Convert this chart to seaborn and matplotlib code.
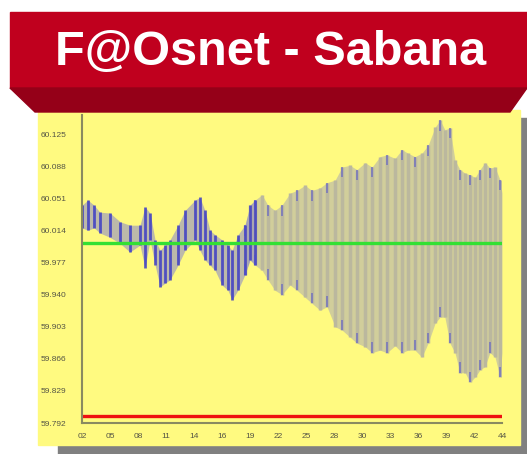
import matplotlib
matplotlib.use("Agg")
import matplotlib.pyplot as plt
from matplotlib.patches import Rectangle, Polygon
import numpy as np
import pandas as pd
import seaborn as sns

# --- data ---
title = "F@Osnet - Sabana"
x_labels = ["02", "05", "08", "11", "14", "16", "19", "22",
            "25", "28", "30", "33", "36", "39", "42", "44"]
y_ticks = [59.792, 59.829, 59.866, 59.903, 59.940,
           59.977, 60.014, 60.051, 60.088, 60.125]

# sample positions in tick units (0 = "02", 15 = "44")
t = [0, 0.21, 0.43, 0.64, 1.0, 1.36, 1.71, 2.07, 2.25, 2.43, 2.61, 2.79,
     2.96, 3.14, 3.43, 3.68, 4.04, 4.21, 4.39, 4.57, 4.75, 5.0, 5.21, 5.36,
     5.57, 5.82, 6.0, 6.18, 6.43, 6.64, 6.89, 7.14, 7.43, 7.68, 7.96, 8.21,
     8.5, 8.75, 9.04, 9.29, 9.57, 9.82, 10.11, 10.36, 10.64, 10.89, 11.18,
     11.43, 11.64, 11.89, 12.14, 12.36, 12.61, 12.79, 12.96, 13.14, 13.32,
     13.5, 13.68, 13.86, 14.04, 14.21, 14.39, 14.57, 14.75, 14.93, 15.0]
freq_hi = [60.043, 60.049, 60.043, 60.035, 60.034, 60.024, 60.020, 60.020,
           60.041, 60.034, 60.003, 59.991, 59.997, 60.003, 60.020, 60.037,
           60.049, 60.052, 60.037, 60.014, 60.009, 60.003, 59.997, 59.991,
           60.009, 60.020, 60.043, 60.049, 60.055, 60.043, 60.037, 60.043,
           60.057, 60.060, 60.066, 60.060, 60.063, 60.069, 60.072, 60.087,
           60.089, 60.084, 60.092, 60.087, 60.099, 60.101, 60.097, 60.107,
           60.103, 60.099, 60.103, 60.112, 60.133, 60.141, 60.130, 60.132,
           60.095, 60.084, 60.080, 60.078, 60.075, 60.084, 60.092, 60.086,
           60.087, 60.072, 60.057]
freq_lo = [60.017, 60.014, 60.017, 60.011, 60.006, 59.999, 59.989, 59.997,
           59.971, 60.003, 59.974, 59.949, 59.953, 59.957, 59.974, 59.991,
           60.003, 59.991, 59.980, 59.974, 59.968, 59.951, 59.945, 59.934,
           59.945, 59.963, 59.980, 59.974, 59.968, 59.957, 59.945, 59.940,
           59.951, 59.945, 59.937, 59.930, 59.922, 59.926, 59.903, 59.899,
           59.891, 59.884, 59.880, 59.873, 59.876, 59.873, 59.881, 59.873,
           59.876, 59.876, 59.868, 59.884, 59.907, 59.914, 59.914, 59.884,
           59.873, 59.850, 59.850, 59.839, 59.845, 59.853, 59.857, 59.873,
           59.868, 59.845, 59.873]
nominal = 60.0
low_limit = 59.80

W, H = 527, 454
sns.set_style("white")
plt.rcParams["font.family"] = ["Liberation Sans", "DejaVu Sans"]

fig = plt.figure(figsize=(W / 100, H / 100), dpi=100)
fig.patch.set_facecolor("white")

# background frame in pixel coordinates
bg = fig.add_axes([0, 0, 1, 1])
bg.set_xlim(0, W)
bg.set_ylim(H, 0)
bg.axis("off")
bg.add_patch(Rectangle((58, 118), W - 58, H - 118, color="#808080"))
bg.add_patch(Rectangle((38, 110), 482, 335, color="#fffa80"))
bg.add_patch(Rectangle((10, 12), W - 10, 76, color="#c0001e"))
bg.add_patch(Polygon([(10, 88), (W, 88), (510, 112), (35, 112)],
                     closed=True, color="#950018"))
bg.text(271, 52, title, color="white", fontsize=35, fontweight="bold",
        ha="center", va="center")

# chart
ax = fig.add_axes([82 / W, (H - 423) / H, 420 / W, (423 - 115) / H])
ax.patch.set_alpha(0)
df = pd.DataFrame({"t": t, "hi": freq_hi, "lo": freq_lo})
early = df[df.t < 6.2]
late = df[df.t >= 5.8]

ax.fill_between(late.t, late.lo, late.hi, color="#c6c3a2", alpha=0.8, lw=0)
ax.vlines(late.t, late.lo, late.hi, color="#bbb89e", lw=2.5)
ax.fill_between(early.t, early.lo, early.hi, color="#7a7ad4", alpha=0.5, lw=0)
ax.vlines(early.t, early.lo, early.hi, color="#2c2cc8", lw=2, alpha=0.75)

# blue accents at the extremes of the wide swings
ends = late.iloc[::2]
ax.vlines(ends.t, ends.hi - 0.012, ends.hi, color="#4a4ad0", lw=1.3, alpha=0.55)
ax.vlines(ends.t, ends.lo, ends.lo + 0.012, color="#4a4ad0", lw=1.3, alpha=0.55)

ref = pd.DataFrame({"t": [0, 15], "nom": [nominal] * 2, "lim": [low_limit] * 2})
sns.lineplot(data=ref, x="t", y="nom", color="#33e033", lw=2.4, ax=ax)
sns.lineplot(data=ref, x="t", y="lim", color="#ee1111", lw=2.4, ax=ax)

ax.set_xlim(0, 15)
ax.set_ylim(59.792, 60.147)
ax.set_xticks(range(len(x_labels)))
ax.set_xticklabels(x_labels)
ax.set_yticks(y_ticks)
ax.set_yticklabels([f"{v:.3f}" for v in y_ticks])
ax.set_xlabel("")
ax.set_ylabel("")
for s in ["top", "right"]:
    ax.spines[s].set_visible(False)
for s in ["left", "bottom"]:
    ax.spines[s].set_color("#8a8a60")
    ax.spines[s].set_linewidth(1.5)
ax.tick_params(axis="x", direction="inout", length=11, width=1.2,
               color="#8a8a60", labelsize=6, labelcolor="#555545", pad=2)
ax.tick_params(axis="y", direction="out", length=9, width=1.2,
               color="#8a8a60", labelsize=6, labelcolor="#555545", pad=2)

fig.savefig("out.png", dpi=100)
